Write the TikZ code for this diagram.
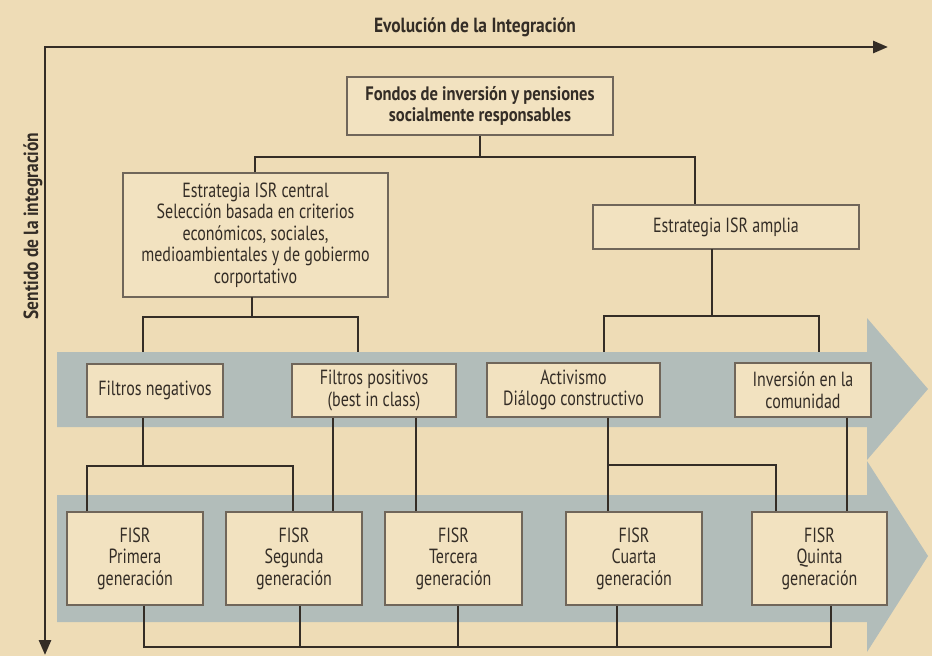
\documentclass[tikz,border=0pt]{standalone}
\usepackage{fontspec}
\setmainfont{PT Sans}[FakeStretch=0.78]
\newfontfamily\hfont{PT Sans}[FakeStretch=0.85]
\usetikzlibrary{arrows.meta}
\definecolor{bg}{RGB}{238,220,182}
\definecolor{boxfill}{RGB}{242,226,192}
\definecolor{band}{RGB}{178,189,186}
\definecolor{ink}{RGB}{52,45,38}
\definecolor{boxline}{RGB}{112,102,90}
\tikzset{
  x=1pt, y=-1pt,
  box/.style={draw=boxline, line width=1.3pt, fill=boxfill, text=ink, align=center,
    inner sep=0pt, font=\fontsize{20.5}{21.5}\selectfont},
  boldbox/.style={box, font=\hfont\fontsize{19.5}{21}\selectfont\bfseries},
  conn/.style={draw=ink, line width=2.5pt, line join=miter},
  axis/.style={draw=ink, line width=2.8pt, line join=miter},
  bandshape/.style={fill=band, draw=none},
  axlabel/.style={text=ink, font=\hfont\fontsize{20.5}{22}\selectfont\bfseries, inner sep=0pt}
}
\begin{document}
\begin{tikzpicture}
\useasboundingbox (0,0) rectangle (932,656);
\fill[bg] (0,0) rectangle (932,656);

% axes
\coordinate (origin) at (45,47);
\coordinate (xend) at (888,47);
\coordinate (yend) at (45,655);
\draw[axis, {Triangle[length=15pt,width=12pt]}-{Triangle[length=15pt,width=12pt]}] (yend) -- (origin) -- (xend);
\node[axlabel] (xlab) at (475,27) {Evolución de la Integración};
\node[axlabel, rotate=90] (ylab) at (33,226) {Sentido de la integración};

% nodes (positions)
\node[boldbox, minimum width=266pt, minimum height=58pt] (top) at (480,106)
  {Fondos de inversión y pensiones\\socialmente responsables};
\node[box, minimum width=265pt, minimum height=124pt] (left) at (255.5,235)
  {Estrategia ISR central\\Selección basada en criterios\\económicos, sociales,\\medioambientales y de gobiermo\\corportativo};
\node[box, minimum width=266pt, minimum height=44pt] (right) at (726,227)
  {Estrategia ISR amplia};

% connectors top level
\coordinate (h1L) at (255,157);
\coordinate (h1R) at (695,157);
\draw[conn] (top.south) -- (top.south |- h1L);
\draw[conn] (left.north -| h1L) -- (h1L) -- (h1R) -- (right.north -| h1R);

% connectors strategy -> middle row (under band 1)
\coordinate (h2L) at (143,317);
\coordinate (h2R) at (358,317);
\coordinate (h3L) at (604,316);
\coordinate (h3R) at (819,316);
\draw[conn] (252,297) -- (252,317);
\draw[conn] (143,364) -- (h2L) -- (h2R) -- (358,364);
\draw[conn] (712,249) -- (712,316);
\draw[conn] (604,364) -- (h3L) -- (h3R) -- (819,364);

% bands
\fill[bandshape] (57,352) -- (867,352) -- (867,318) -- (928,389) -- (867,460) -- (867,427) -- (57,427) -- cycle;
\fill[bandshape] (57,495) -- (867,495) -- (867,461) -- (928,556) -- (867,652) -- (867,622) -- (57,622) -- cycle;

% middle row
\node[box, minimum width=136pt, minimum height=53pt] (fneg) at (155,390.5) {Filtros negativos};
\node[box, minimum width=164pt, minimum height=53pt] (fpos) at (374,390.5) {Filtros positivos\\(best in class)};
\node[box, minimum width=173pt, minimum height=54pt] (act) at (573.5,390) {Activismo\\Diálogo constructivo};
\node[box, minimum width=136pt, minimum height=54pt] (inv) at (803,390) {Inversión en la\\comunidad};

% bottom row
\node[box, minimum width=136pt, minimum height=93pt] (g1) at (135,558.5) {FISR\\Primera\\generación};
\node[box, minimum width=136pt, minimum height=93pt] (g2) at (294,558.5) {FISR\\Segunda\\generación};
\node[box, minimum width=137pt, minimum height=93pt] (g3) at (453.5,558.5) {FISR\\Tercera\\generación};
\node[box, minimum width=136pt, minimum height=93pt] (g4) at (634,558.5) {FISR\\Cuarta\\generación};
\node[box, minimum width=135pt, minimum height=93pt] (g5) at (819.5,558.5) {FISR\\Quinta\\generación};

% connectors middle -> bottom
\coordinate (h4L) at (87,466);
\coordinate (h4R) at (293,466);
\coordinate (h5L) at (608,465);
\coordinate (h5R) at (776,465);
\draw[conn] (fneg.south -| 143,0) -- (143,466);
\draw[conn] (g1.north -| h4L) -- (h4L) -- (h4R) -- (g2.north -| h4R);
\draw[conn] (fpos.south -| 333,0) -- (g2.north -| 333,0);
\draw[conn] (fpos.south -| 416,0) -- (g3.north -| 416,0);
\draw[conn] (act.south -| h5L) -- (g4.north -| h5L);
\draw[conn] (h5L) -- (h5R) -- (g5.north -| h5R);
\draw[conn] (inv.south -| 847,0) -- (g5.north -| 847,0);

% bottom bus
\coordinate (busL) at (144,647);
\coordinate (busR) at (831,647);
\draw[conn] (g1.south -| busL) -- (busL) -- (busR) -- (g5.south -| busR);
\draw[conn] (g2.south -| 300,0) -- (300,647);
\draw[conn] (g3.south -| 458,0) -- (458,647);
\draw[conn] (g4.south -| 617,0) -- (617,647);
\end{tikzpicture}
\end{document}
